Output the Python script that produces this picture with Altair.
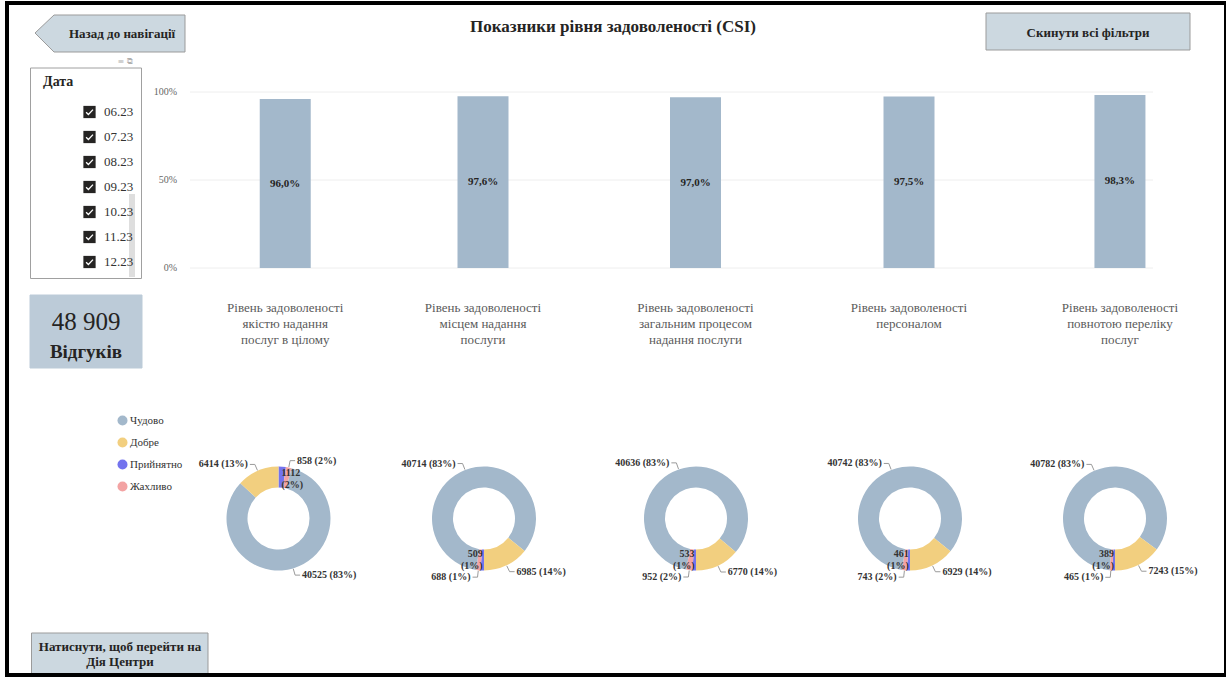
import math
import altair as alt
import pandas as pd

FONT = "'Liberation Serif', 'Times New Roman', serif"
TXT = "#252423"

# ---------------- data ----------------
categories = [
    "Рівень задоволеності\nякістю надання\nпослуг в цілому",
    "Рівень задоволеності\nмісцем надання\nпослуги",
    "Рівень задоволеності\nзагальним процесом\nнадання послуги",
    "Рівень задоволеності\nперсоналом",
    "Рівень задоволеності\nповнотою переліку\nпослуг",
]
csi_pct = [96.0, 97.6, 97.0, 97.5, 98.3]
axis_ticks = [0, 50, 100]
axis_tick_labels = ["0%", "50%", "100%"]

ratings = ["Чудово", "Добре", "Прийнятно", "Жахливо"]
rating_colors = ["#a3b8cb", "#f2cf7f", "#7373ee", "#f3a3a3"]
excellent = [40525, 40714, 40636, 40742, 40782]
good = [6414, 6985, 6770, 6929, 7243]
acceptable = [1112, 509, 533, 461, 389]
terrible = [858, 688, 952, 743, 465]
donut_rotation = [0.0, 0.5, 0.5, 0.5, 0.5]  # where the first slice starts, in turns
slice_order = ["Прийнятно", "Жахливо", "Чудово", "Добре"]
inside_labelled = ["Прийнятно"]

dates = ["06.23", "07.23", "08.23", "09.23", "10.23", "11.23", "12.23"]
responses_total = "48 909"
responses_caption = "Відгуків"

# ---------------- tables ----------------
bars = pd.DataFrame({
    "i": list(range(len(categories))),
    "cat": categories,
    "v": csi_pct,
    "lbl": [f"{v:.1f}".replace(".", ",") + "%" for v in csi_pct],
})
bars["half"] = bars["v"] / 2
ticks = pd.DataFrame({"t": axis_ticks, "lbl": axis_tick_labels})

TWO_PI = 2 * math.pi
rows = []
for i in range(len(excellent)):
    vals = {"Чудово": excellent[i], "Добре": good[i],
            "Прийнятно": acceptable[i], "Жахливо": terrible[i]}
    tot = sum(vals.values())
    cum = donut_rotation[i]
    for o, r in enumerate(slice_order):
        f = vals[r] / tot
        t0, t1 = cum, cum + f
        cum = t1
        mid = (t0 + t1) / 2
        ang = mid * TWO_PI
        pct = int(f * 100 + 0.5)
        inside = r in inside_labelled
        lbl = f"{vals[r]}\n({pct}%)" if inside else f"{vals[r]} ({pct}%)"
        rows.append(dict(i=i, o=o, rating=r, n=vals[r], a0=t0 * TWO_PI, a1=t1 * TWO_PI,
                         ang=ang, side="R" if math.sin(ang) >= 0 else "L",
                         kind="in" if inside else "out", lbl=lbl))
donuts = pd.DataFrame(rows)
slicer = pd.DataFrame({"d": dates})
one = pd.DataFrame({"k": [0]})

# ---------------- scales ----------------
bar_x = alt.Scale(domain=[0, 1, 2, 3, 4], range=[280.5, 483, 695.5, 909, 1125], nice=False, zero=False)
bar_y = alt.Scale(domain=[0, 100], range=[268, 92], nice=False, zero=False)
donut_x = alt.Scale(domain=[0, 1, 2, 3, 4], range=[278.5, 484, 696, 910, 1115], nice=False, zero=False)
CY = 518.5

# ---------------- bar chart ----------------
grid = alt.Chart(ticks).mark_rule(color="#eeeeee", strokeWidth=1).encode(
    y=alt.Y("t:Q", scale=bar_y, axis=None),
    x=alt.value(190), x2=alt.value(1153))
tick_lbl = alt.Chart(ticks).mark_text(align="right", baseline="middle", font=FONT,
                                      fontSize=10, color="#666666").encode(
    y=alt.Y("t:Q", scale=bar_y, axis=None), x=alt.value(177), text="lbl:N")
bar_marks = alt.Chart(bars).mark_bar(size=51, color="#a3b8cb", orient="vertical").encode(
    x=alt.X("i:Q", scale=bar_x, axis=None),
    y=alt.Y("v:Q", scale=bar_y, axis=None, stack=None))
bar_vals = alt.Chart(bars).mark_text(font=FONT, fontSize=11, fontWeight="bold",
                                     color=TXT, baseline="middle").encode(
    x=alt.X("i:Q", scale=bar_x, axis=None),
    y=alt.Y("half:Q", scale=bar_y, axis=None), text="lbl:N")
cat_lbl = alt.Chart(bars).mark_text(font=FONT, fontSize=13, color="#5a5a5a", baseline="top",
                                    lineBreak="\n", lineHeight=16).encode(
    x=alt.X("i:Q", scale=bar_x, axis=None), y=alt.value(302), text="cat:N")
bar_group = alt.layer(grid, tick_lbl, bar_marks, bar_vals, cat_lbl)

# ---------------- donuts (one arc layer per slice) ----------------
dx = alt.X("i:Q", scale=donut_x, axis=None)
cscale = alt.Scale(domain=ratings, range=rating_colors)
legend = alt.Legend(orient="none", legendX=117, legendY=415, title=None,
                    symbolType="circle", symbolSize=100, symbolStrokeWidth=0,
                    labelFont=FONT, labelFontSize=11, labelColor="#333333",
                    rowPadding=10, labelOffset=2, padding=0)

slices = []
for i in range(len(excellent)):
    for o in range(len(slice_order)):
        slices.append(
            alt.Chart(donuts).transform_filter(f"datum.i == {i} && datum.o == {o}").mark_arc(
                innerRadius=31, outerRadius=52).encode(
                x=dx, y=alt.value(CY),
                theta=alt.Theta("a0:Q", scale=None, stack=None), theta2="a1:Q",
                color=alt.Color("rating:N", scale=cscale, legend=legend)))
rings = alt.layer(*slices)

def donut_text(side, kind, radius, off, dy=0):
    return alt.Chart(donuts).transform_filter(
        f"datum.side == '{side}' && datum.kind == '{kind}'"
    ).mark_text(font=FONT, fontSize=10, fontWeight="bold", color="#333333",
                align="left" if side == "R" else "right", baseline="middle",
                dx=off if side == "R" else -off, dy=dy, lineBreak="\n", lineHeight=12).encode(
        x=dx, y=alt.value(CY),
        theta=alt.Theta("ang:Q", scale=None, stack=None),
        radius=alt.value(radius), text="lbl:N")

lead_radial = alt.Chart(donuts).transform_filter("datum.kind == 'out'").mark_rule(
    color="#9a9a9a", strokeWidth=1,
    xOffset={"expr": "52.5*sin(datum.ang)"}, x2Offset={"expr": "59*sin(datum.ang)"},
    yOffset={"expr": "-52.5*cos(datum.ang)"}, y2Offset={"expr": "-59*cos(datum.ang)"},
).encode(x=dx, x2=alt.X2("i"), y=alt.value(CY), y2=alt.value(CY))
lead_flat = alt.Chart(donuts).transform_filter("datum.kind == 'out'").mark_rule(
    color="#9a9a9a", strokeWidth=1,
    xOffset={"expr": "59*sin(datum.ang)"},
    x2Offset={"expr": "59*sin(datum.ang) + (datum.side == 'R' ? 5 : -5)"},
    yOffset={"expr": "-59*cos(datum.ang)"}, y2Offset={"expr": "-59*cos(datum.ang)"},
).encode(x=dx, x2=alt.X2("i"), y=alt.value(CY), y2=alt.value(CY))

donut_labels = alt.layer(
    lead_radial, lead_flat,
    donut_text("R", "out", 59, 7), donut_text("L", "out", 59, 7),
    donut_text("R", "in", 41, 0, -5), donut_text("L", "in", 41, 0, -5))

# ---------------- slicer ----------------
sl_y = alt.Y("d:N", scale=alt.Scale(domain=dates, range=[112, 262], padding=0), axis=None)
sl_box = alt.Chart(one).mark_rect(fill="white", stroke="#a0a0a0", strokeWidth=1).encode(
    x=alt.value(30.5), x2=alt.value(141.5), y=alt.value(68), y2=alt.value(278.5))
sl_scroll = alt.Chart(one).mark_rect(fill="#dedede").encode(
    x=alt.value(129), x2=alt.value(135), y=alt.value(194), y2=alt.value(277))
sl_title = alt.Chart(one).mark_text(font=FONT, fontSize=14, fontWeight="bold", color=TXT,
                                    align="left", baseline="middle").encode(
    x=alt.value(43), y=alt.value(81.5), text=alt.value("Дата"))
sl_icons = alt.Chart(one).mark_text(font="DejaVu Sans", fontSize=8, color="#b0b0b0",
                                    align="center", baseline="middle").encode(
    x=alt.value(125), y=alt.value(62), text=alt.value("≡  ⧉"))
sl_box_marks = alt.Chart(slicer).mark_square(size=150, color="#252423", opacity=1).encode(
    x=alt.value(89.5), y=sl_y)
sl_check = alt.Chart(slicer).mark_point(shape="M -3.4 0.2 L -1.1 2.5 L 3.5 -2.4", size=4,
                                        filled=False, color="white", strokeWidth=1.3,
                                        opacity=1).encode(x=alt.value(89.5), y=sl_y)
sl_text = alt.Chart(slicer).mark_text(font=FONT, fontSize=13, color="#333333", align="left",
                                      baseline="middle").encode(
    x=alt.value(104), y=sl_y, text="d:N")
slicer_group = alt.layer(sl_box, sl_scroll, sl_title, sl_icons, sl_box_marks, sl_check, sl_text)

# ---------------- decorations ----------------
def text(t, x, y, size, bold=True, color=TXT, align="center", lh=None):
    kw = dict(font=FONT, fontSize=size, fontWeight="bold" if bold else "normal",
              color=color, align=align, baseline="middle")
    if lh:
        kw.update(lineBreak="\n", lineHeight=lh)
    return alt.Chart(one).mark_text(**kw).encode(x=alt.value(x), y=alt.value(y), text=alt.value(t))

def rect(x1, x2, y1, y2, fill, stroke="#9b9b9b", sw=1):
    return alt.Chart(one).mark_rect(fill=fill, stroke=stroke, strokeWidth=sw).encode(
        x=alt.value(x1), x2=alt.value(x2), y=alt.value(y1), y2=alt.value(y2))

BTN = "#ccd8e0"
back_btn = alt.Chart(one).mark_point(
    shape="M -87 -0.5 L -68 -18.5 L 63 -18.5 L 63 18.5 L -68 18.5 Z", size=4,
    filled=True, fill=BTN, stroke="#9b9b9b", strokeWidth=1, opacity=1, fillOpacity=1,
).encode(x=alt.value(122), y=alt.value(33.5))

decor = [
    back_btn,
    text("Назад до навігації", 122, 33.5, 13),
    text("Показники рівня задоволеності (CSI)", 613, 27, 17),
    rect(986, 1190, 13, 50, BTN),
    text("Скинути всі фільтри", 1088, 32.5, 13),
    rect(30, 142, 295, 368, "#bccbd8", stroke="#bccbd8"),
    text(responses_total, 86, 322, 25, bold=False),
    text(responses_caption, 86, 352, 19),
    rect(31.5, 208, 633, 674, BTN),
    text("Натиснути, щоб перейти на\nДія Центри", 120, 647, 13, lh=15),
]
border = alt.Chart(one).mark_rect(fill="transparent", stroke="black", strokeWidth=4).encode(
    x=alt.value(7), x2=alt.value(1226), y=alt.value(3), y2=alt.value(675))

chart = alt.layer(
    *decor, slicer_group, bar_group, rings, donut_labels, border
).resolve_scale(
    x="independent", y="independent", color="independent"
).properties(
    width=1226, height=677, padding=0, background="white",
    autosize=alt.AutoSizeParams(type="none"),
).configure_view(stroke=None)

chart.save("out.html", embed_options={"renderer": "svg", "actions": False})
